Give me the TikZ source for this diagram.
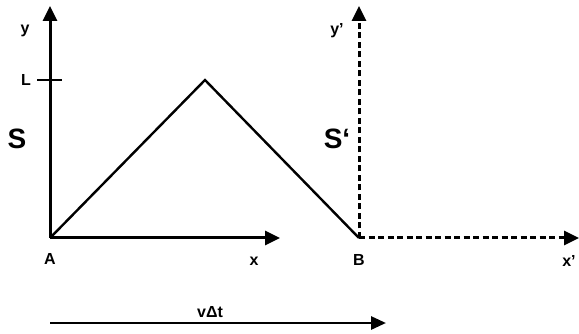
\documentclass[tikz,border=0pt]{standalone}
\usepackage{fontspec}
\setmainfont{Liberation Sans}
\usetikzlibrary{arrows.meta}
\begin{document}
\begin{tikzpicture}[x=1pt,y=-1pt,
  axis/.style={line width=3pt,-{Triangle[length=15pt,width=14pt]}},
  daxis/.style={axis,dash pattern=on 6pt off 3.5pt},
  tri/.style={line width=2.4pt},
  lbl/.style={font=\bfseries\fontsize{16}{16}\selectfont,inner sep=0pt},
  big/.style={font=\bfseries\fontsize{28}{28}\selectfont,inner sep=0pt}]
\useasboundingbox (0,0) rectangle (579,334);
\coordinate (A) at (50,238);
\coordinate (B) at (359,238);
\coordinate (P) at (205,80);
\coordinate (ytop) at (50,6);
\coordinate (xtip) at (280,238);
\coordinate (yptop) at (359,6);
\coordinate (xptip) at (579,238);
\coordinate (Lt1) at (37,80);
\coordinate (Lt2) at (62,80);
\coordinate (v1) at (50,323);
\coordinate (v2) at (386,323);
\draw[axis] (A) -- (ytop);
\draw[axis] (A) -- (xtip);
\draw[line width=2pt] (Lt1) -- (Lt2);
\draw[tri] (A) -- (P) -- (B);
\draw[daxis] (B) -- (yptop);
\draw[daxis] (B) -- (xptip);
\draw[line width=2.8pt,-{Triangle[length=15pt,width=13pt]}] (v1) -- (v2);
\node[lbl] (ly) at (25,31) {y};
\node[lbl] (lL) at (26,80) {L};
\node[big] (lS) at (17,139) {S};
\node[big] (lSp) at (337,139) {S‘};
\node[lbl] (lyp) at (337,31) {y'};
\node[lbl] (lA) at (50,259) {A};
\node[lbl] (lx) at (254,261) {x};
\node[lbl] (lB) at (359,260) {B};
\node[lbl] (lxp) at (569,261) {x'};
\node[lbl] (lv) at (210,312) {vΔt};
\end{tikzpicture}
\end{document}
